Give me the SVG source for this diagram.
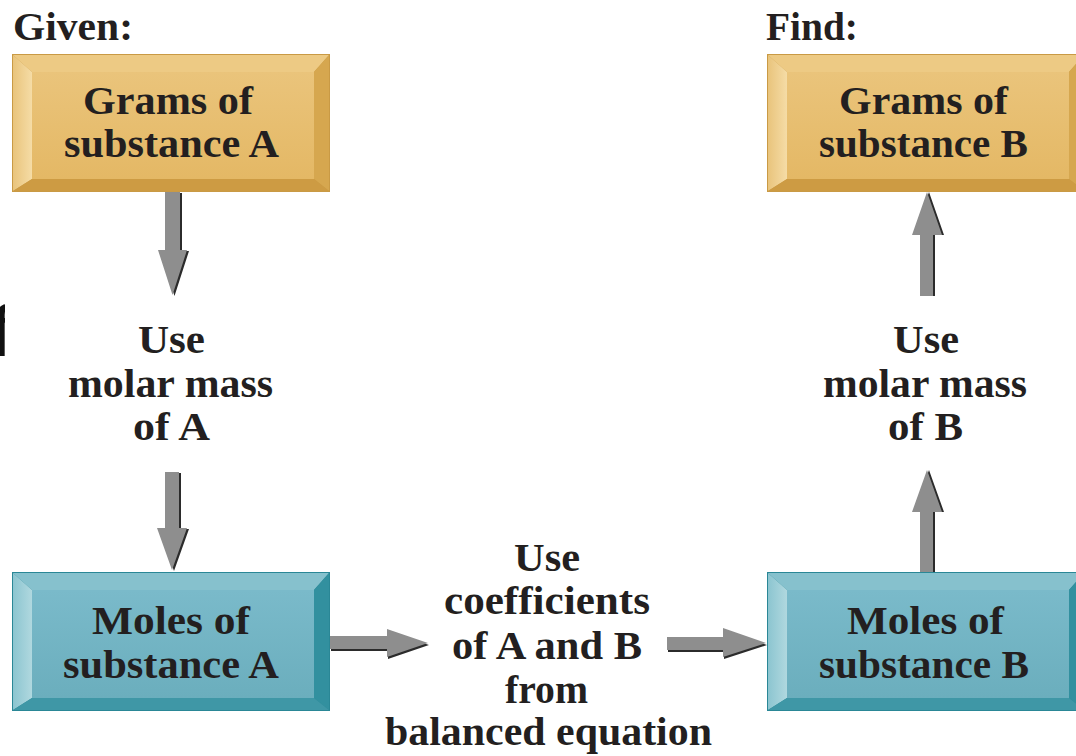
<svg xmlns="http://www.w3.org/2000/svg" xmlns:xlink="http://www.w3.org/1999/xlink" width="1076" height="756" viewBox="0 0 1076 756">
<style>
.t{font-family:"Liberation Serif","Times New Roman",serif;font-weight:bold;font-size:40px;fill:#231F20}
.arr{fill:#8E8E8E}
.sh{fill:#2B2B2B}
</style>
<defs>
<linearGradient id="gFace" x1="0" y1="0" x2="0" y2="1">
<stop offset="0" stop-color="#EAC47B"/><stop offset="1" stop-color="#E4B865"/>
</linearGradient>
<linearGradient id="tFace" x1="0" y1="0" x2="0" y2="1">
<stop offset="0" stop-color="#7ABACA"/><stop offset="1" stop-color="#6BAEBD"/>
</linearGradient>
<linearGradient id="gLeft" x1="0" y1="0" x2="1" y2="0">
<stop offset="0" stop-color="#E9C47C"/><stop offset="1" stop-color="#F5DCA6"/>
</linearGradient>
<linearGradient id="tLeft" x1="0" y1="0" x2="1" y2="0">
<stop offset="0" stop-color="#8CC5D0"/><stop offset="1" stop-color="#B0D8DF"/>
</linearGradient>
<g id="goldBox">
<rect x="0" y="0" width="318" height="138" fill="#C99A45"/>
<polygon points="1,1 317,1 302,18 20,18" fill="#EDCA84"/>
<polygon points="1,1 20,18 20,125 1,137" fill="url(#gLeft)"/>
<polygon points="317,1 317,137 302,125 302,18" fill="#D6A74F"/>
<polygon points="1,137 20,125 302,125 317,137" fill="#CD9B43"/>
<rect x="20" y="18" width="282" height="107" fill="url(#gFace)"/>
</g>
<g id="tealBox">
<rect x="0" y="0" width="318" height="139" fill="#2A8796"/>
<polygon points="1,1 317,1 302,18 20,18" fill="#86C1CD"/>
<polygon points="1,1 20,18 20,126 1,138" fill="url(#tLeft)"/>
<polygon points="317,1 317,138 302,126 302,18" fill="#32909F"/>
<polygon points="1,138 20,126 302,126 317,138" fill="#3F97A6"/>
<rect x="20" y="18" width="282" height="108" fill="url(#tFace)"/>
</g>
<clipPath id="edgeClip"><rect x="0" y="280" width="5" height="90"/></clipPath>
</defs>
<rect width="1076" height="756" fill="#FFFFFF"/>

<g id="labels">
<text class="t" x="13" y="40" textLength="120" lengthAdjust="spacingAndGlyphs">Given:</text>
<text class="t" x="766" y="40" textLength="92" lengthAdjust="spacingAndGlyphs">Find:</text>
<text x="-8" y="356" clip-path="url(#edgeClip)" style="font-family:'Liberation Sans',Arial,sans-serif;font-size:72px;fill:#111">f</text>
</g>

<g id="connectors">
<polygon class="sh" transform="translate(2,1)" points="165,192 180,192 180,250 187,250 172.5,295 158,250 165,250"/>
<polygon class="arr" points="165,192 180,192 180,250 187,250 172.5,295 158,250 165,250"/>
<polygon class="sh" transform="translate(2,1)" points="165,472 179,472 179,528 187,528 172,570 157,528 165,528"/>
<polygon class="arr" points="165,472 179,472 179,528 187,528 172,570 157,528 165,528"/>
<polygon class="sh" transform="translate(1,2)" points="330,636 387,636 387,629 428,643 387,657 387,649 330,649"/>
<polygon class="arr" points="330,636 387,636 387,629 428,643 387,657 387,649 330,649"/>
<polygon class="sh" transform="translate(1,2)" points="667,637 723,637 723,628 766,643 723,657 723,650 667,650"/>
<polygon class="arr" points="667,637 723,637 723,628 766,643 723,657 723,650 667,650"/>
<polygon class="sh" transform="translate(2,0)" points="920,572 920,512 912,512 927,470 942,512 933,512 933,572"/>
<polygon class="arr" points="920,572 920,512 912,512 927,470 942,512 933,512 933,572"/>
<polygon class="sh" transform="translate(2,0)" points="920,296 920,235 912,235 927,192 942,235 933,235 933,296"/>
<polygon class="arr" points="920,296 920,235 912,235 927,192 942,235 933,235 933,296"/>
</g>

<g id="node-grams-a">
<use xlink:href="#goldBox" x="12" y="54"/>
<text class="t" x="83" y="114" textLength="170" lengthAdjust="spacingAndGlyphs">Grams of</text>
<text class="t" x="64" y="157" textLength="215" lengthAdjust="spacingAndGlyphs">substance A</text>
</g>

<g id="node-grams-b">
<use xlink:href="#goldBox" x="767" y="54"/>
<text class="t" x="839" y="114" textLength="169" lengthAdjust="spacingAndGlyphs">Grams of</text>
<text class="t" x="819" y="157" textLength="209" lengthAdjust="spacingAndGlyphs">substance B</text>
</g>

<g id="node-moles-a">
<use xlink:href="#tealBox" x="12" y="572"/>
<text class="t" x="92" y="634" textLength="158" lengthAdjust="spacingAndGlyphs">Moles of</text>
<text class="t" x="63" y="678" textLength="216" lengthAdjust="spacingAndGlyphs">substance A</text>
</g>

<g id="node-moles-b">
<use xlink:href="#tealBox" x="767" y="572"/>
<text class="t" x="847" y="634" textLength="157" lengthAdjust="spacingAndGlyphs">Moles of</text>
<text class="t" x="819" y="678" textLength="210" lengthAdjust="spacingAndGlyphs">substance B</text>
</g>

<g id="node-molar-a">
<text class="t" x="138" y="353" textLength="67" lengthAdjust="spacingAndGlyphs">Use</text>
<text class="t" x="68" y="397" textLength="205" lengthAdjust="spacingAndGlyphs">molar mass</text>
<text class="t" x="133" y="440" textLength="77" lengthAdjust="spacingAndGlyphs">of A</text>
</g>

<g id="node-molar-b">
<text class="t" x="893" y="353" textLength="66" lengthAdjust="spacingAndGlyphs">Use</text>
<text class="t" x="823" y="397" textLength="204" lengthAdjust="spacingAndGlyphs">molar mass</text>
<text class="t" x="888" y="440" textLength="75" lengthAdjust="spacingAndGlyphs">of B</text>
</g>

<g id="node-coefficients">
<text class="t" x="514" y="571" textLength="66" lengthAdjust="spacingAndGlyphs">Use</text>
<text class="t" x="444" y="614" textLength="206" lengthAdjust="spacingAndGlyphs">coefficients</text>
<text class="t" x="452" y="659" textLength="190" lengthAdjust="spacingAndGlyphs">of A and B</text>
<text class="t" x="505" y="703" textLength="83" lengthAdjust="spacingAndGlyphs">from</text>
<text class="t" x="385" y="745" textLength="327" lengthAdjust="spacingAndGlyphs">balanced equation</text>
</g>
</svg>
